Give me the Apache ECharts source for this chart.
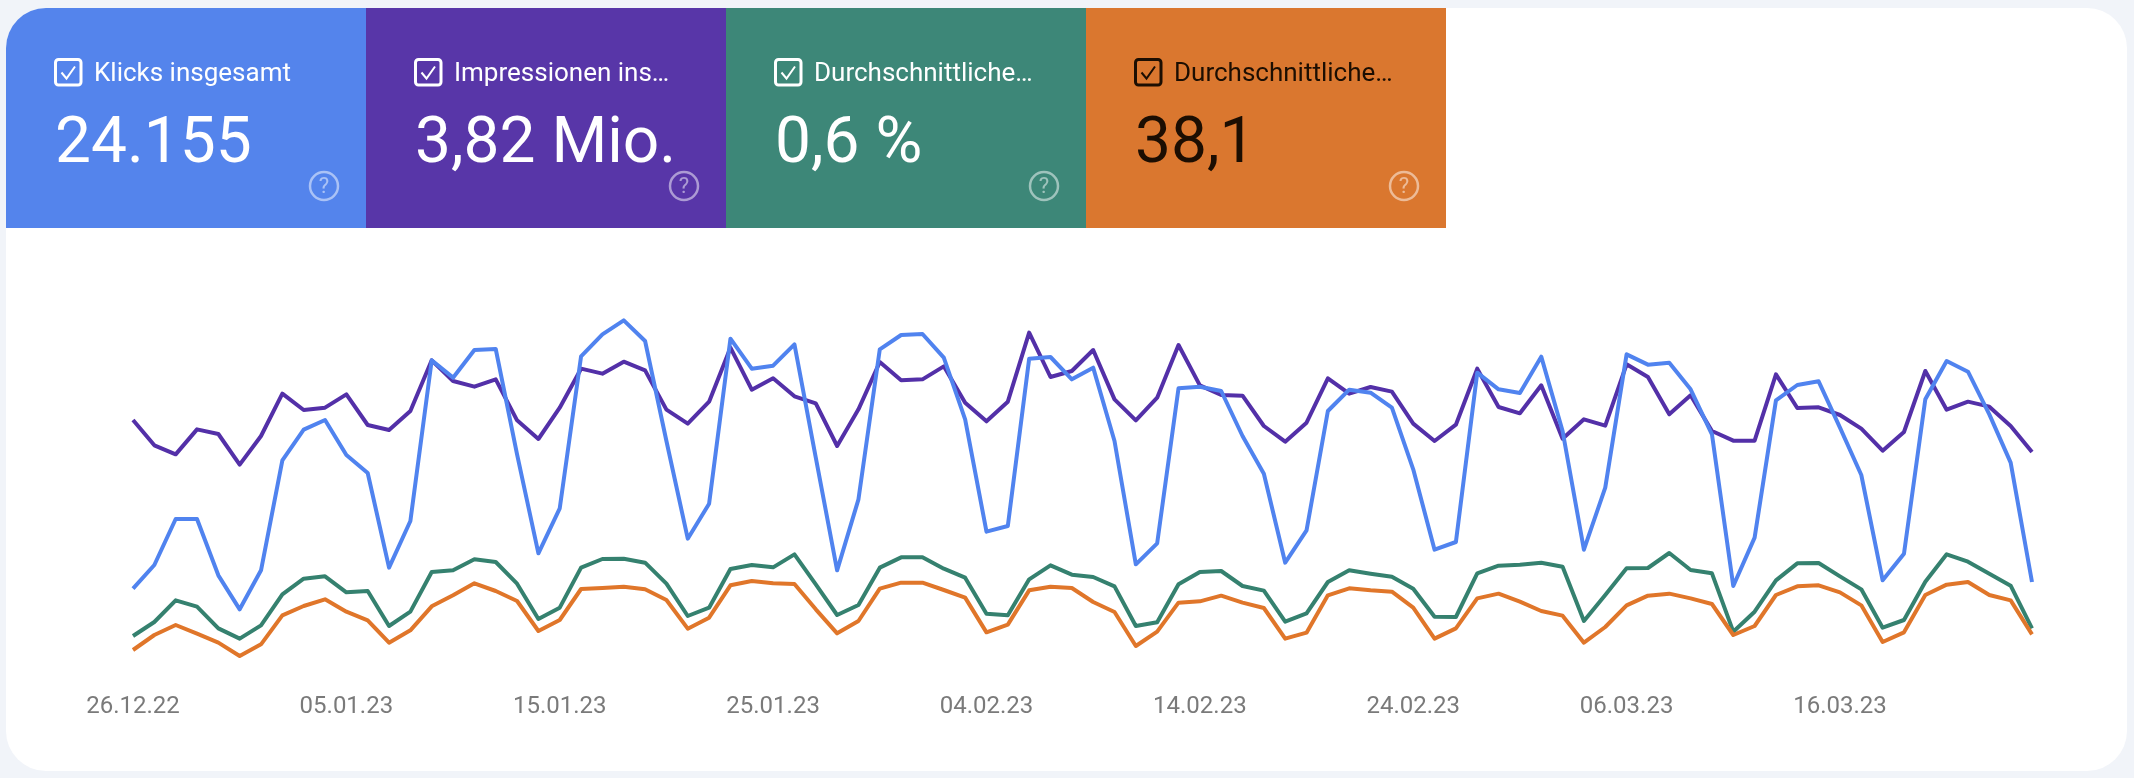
<!DOCTYPE html>
<html>
<head>
<meta charset="utf-8">
<title>Leistung</title>
<script src="https://cdn.jsdelivr.net/npm/echarts@6/dist/echarts.min.js"></script>
<style>
  html, body { margin: 0; padding: 0; background: #f1f4f9; }
  #main { width: 2134px; height: 778px; }
</style>
</head>
<body>
<div id="main"></div>
<script>
// the four lines have separate hidden scales in the original, so values are
// read as height in the plot (0 = bottom, 1200 = top)
const clicks = [307,378,516,516,347,245,362,692,784,813,708,654,370,510,992,940,1023,1026,710,413,548,1004,1070,1112,1050,750,457,562,1057,967,976,1040,
  700,362,575,1025,1068,1071,1000,815,478,495,997,1002,935,970,750,380,443,908,913,900,765,652,385,482,840,904,895,850,665,424,447,955,
  905,894,1003,780,424,610,1010,979,985,905,770,315,460,872,918,929,790,648,332,412,875,990,958,830,685,327];
const impressions = [813,737,710,785,771,679,765,892,843,850,890,798,783,840,992,930,913,935,812,756,850,967,952,988,962,844,802,868,1030,904,938,884,
  863,735,845,987,932,935,974,865,809,868,1075,942,960,1023,875,812,880,1038,917,888,886,795,748,805,938,892,912,898,802,750,799,967,
  852,833,917,757,815,796,980,942,830,887,780,751,751,950,849,851,828,787,721,777,960,844,868,853,795,717];
const ctr = [165,207,272,253,188,157,197,290,337,344,296,300,195,238,357,362,395,387,322,216,250,370,396,397,385,322,225,250,366,378,371,410,
  320,228,258,370,401,401,367,340,232,227,335,377,349,342,314,195,206,320,357,360,315,301,208,233,327,362,352,343,307,223,222,353,
  376,379,385,373,210,288,368,369,414,363,353,178,238,332,383,384,344,305,190,213,328,410,388,352,316,188];
const position = [123,168,198,172,145,105,140,227,255,275,238,212,145,182,254,287,323,300,270,180,213,306,309,313,305,273,187,220,317,330,323,321,
  245,173,210,307,325,325,303,280,176,199,302,313,309,267,237,135,178,265,269,286,265,249,157,175,287,308,302,298,250,157,188,278,
  292,268,240,226,145,192,257,286,292,278,261,168,195,288,314,317,296,257,147,176,288,319,327,288,272,170];

const seriesNames = ['Impressionen', 'Klicks', 'CTR', 'Position'];
const seriesData = [impressions, clicks, ctr, position];
const lineColors = ['#5330a8', '#5083ef', '#35816f', '#e0762a'];

const tileTitles = ['Klicks insgesamt', 'Impressionen ins…', 'Durchschnittliche…', 'Durchschnittliche…'];
const tileValues = ['24.155', '3,82 Mio.', '0,6 %', '38,1'];
const tileColors = ['#5484ec', '#5836a8', '#3d8778', '#da772f'];
const tileInk = ['#ffffff', '#ffffff', '#ffffff', '#1c0e02'];

// 26.12.22 bis 25.03.23
const categories = [];
for (let i = 0; i < 90; i++) {
  const d = new Date(Date.UTC(2022, 11, 26 + i));
  const dd = String(d.getUTCDate()).padStart(2, '0');
  const mm = String(d.getUTCMonth() + 1).padStart(2, '0');
  categories.push(dd + '.' + mm + '.' + String(d.getUTCFullYear()).slice(2));
}

const FONT = 'Roboto, sans-serif';
const TILE_W = 360;

function tile(i) {
  const x = 6 + i * TILE_W;
  const ink = tileInk[i];
  return [
    { type: 'rect', z: 1, shape: { x: x, y: 8, width: TILE_W, height: 220, r: i === 0 ? [40, 0, 0, 0] : 0 }, style: { fill: tileColors[i] } },
    { type: 'rect', z: 2, shape: { x: x + 49.5, y: 59.5, width: 25.5, height: 25.5, r: 3 }, style: { fill: 'none', stroke: ink, lineWidth: 3 } },
    { type: 'polyline', z: 2, shape: { points: [[x + 55.5, 72.5], [x + 60.5, 78.5], [x + 69, 66.5]] }, style: { fill: 'none', stroke: ink, lineWidth: 2 } },
    { type: 'text', z: 2, style: { x: x + 88, y: 74, text: tileTitles[i], fill: ink, font: '400 26px ' + FONT, textVerticalAlign: 'middle' } },
    { type: 'text', z: 2, style: { x: x + 49, y: 146, text: tileValues[i], fill: ink, font: '400 64px ' + FONT, textVerticalAlign: 'middle' } },
    { type: 'circle', z: 2, shape: { cx: x + 318, cy: 186, r: 14 }, style: { fill: 'none', stroke: '#ffffff', lineWidth: 2.5, opacity: 0.5 } },
    { type: 'text', z: 2, style: { x: x + 318, y: 187, text: '?', fill: '#ffffff', opacity: 0.5, font: '400 22px ' + FONT, textAlign: 'center', textVerticalAlign: 'middle' } }
  ];
}

const chart = echarts.init(document.getElementById('main'));
chart.setOption({
  animation: false,
  backgroundColor: '#f1f4f9',
  graphic: [
    { type: 'rect', z: 0, shape: { x: 6, y: 8, width: 2121, height: 763, r: 40 }, style: { fill: '#ffffff' } }
  ].concat(...tileTitles.map((t, i) => tile(i))),
  grid: { left: 133, width: 1899, top: 291, height: 400 },
  xAxis: {
    type: 'category',
    data: categories,
    boundaryGap: false,
    axisLine: { show: false },
    axisTick: { show: false },
    axisLabel: { interval: 9, margin: 4, color: '#7a7a7a', fontFamily: FONT, fontSize: 24, hideOverlap: false }
  },
  yAxis: { type: 'value', min: 0, max: 1200, show: false },
  series: seriesData.map((data, i) => ({
    name: seriesNames[i],
    type: 'line',
    data: data,
    z: 5 + i,
    symbol: 'none',
    lineStyle: { color: lineColors[i], width: 4, join: 'round' }
  }))
});
</script>
</body>
</html>
